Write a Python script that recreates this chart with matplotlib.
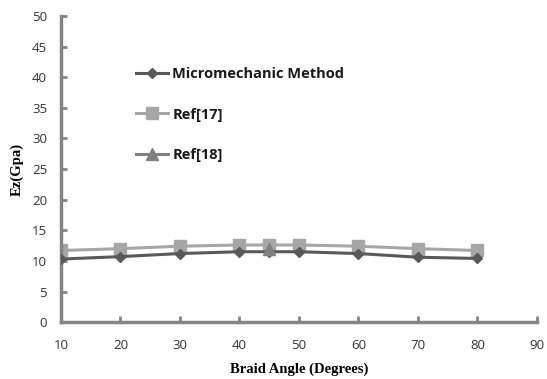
import matplotlib
matplotlib.use("Agg")
import matplotlib.pyplot as plt

angles = [10, 20, 30, 40, 45, 50, 60, 70, 80]
micro = [10.3, 10.7, 11.2, 11.5, 11.5, 11.5, 11.2, 10.6, 10.4]
ref17 = [11.7, 12.0, 12.4, 12.6, 12.6, 12.6, 12.4, 12.0, 11.7]
ref18_x = [45]
ref18 = [12.0]

xticks = [10, 20, 30, 40, 50, 60, 70, 80, 90]
yticks = [0, 5, 10, 15, 20, 25, 30, 35, 40, 45, 50]

fig = plt.figure(figsize=(5.47, 3.79), dpi=100)
ax = fig.add_axes([0.1115, 0.150, 0.870, 0.808])

ax.plot(angles, micro, color="#595959", lw=2.2, marker="D", ms=5, label="Micromechanic Method", zorder=3)
ax.plot(angles, ref17, color="#A6A6A6", lw=2.2, marker="s", ms=8, label="Ref[17]", zorder=2)
ax.plot(ref18_x, ref18, color="#808080", lw=2.2, marker="^", ms=8, label="Ref[18]", zorder=4)

ax.set_xlim(10, 90)
ax.set_ylim(0, 50)
ax.set_xticks(xticks)
ax.set_yticks(yticks)
for s in ["top", "right"]:
    ax.spines[s].set_visible(False)
for s in ["left", "bottom"]:
    ax.spines[s].set_color("#858585")
    ax.spines[s].set_linewidth(2.5)
ax.tick_params(direction="in", length=4, width=2, color="#858585",
               labelsize=9.5, labelcolor="#333333")
ax.tick_params(axis="x", pad=12)
ax.tick_params(axis="y", pad=10)
for lab in ax.get_xticklabels() + ax.get_yticklabels():
    lab.set_family("Open Sans")

ax.set_xlabel("Braid Angle (Degrees)", family="Liberation Serif", weight="bold", fontsize=10.5, labelpad=8)
ax.set_ylabel("Ez(Gpa)", family="Liberation Serif", weight="bold", fontsize=10.5, labelpad=6)

leg = ax.legend(loc="upper left", bbox_to_anchor=(0.13, 0.875), frameon=False,
                prop={"family": "Open Sans", "weight": "bold", "size": 10.5},
                labelspacing=1.8, handlelength=2.2, handletextpad=0.3)
for t in leg.get_texts():
    t.set_color("#1a1a1a")

fig.savefig("out.png", dpi=100)
